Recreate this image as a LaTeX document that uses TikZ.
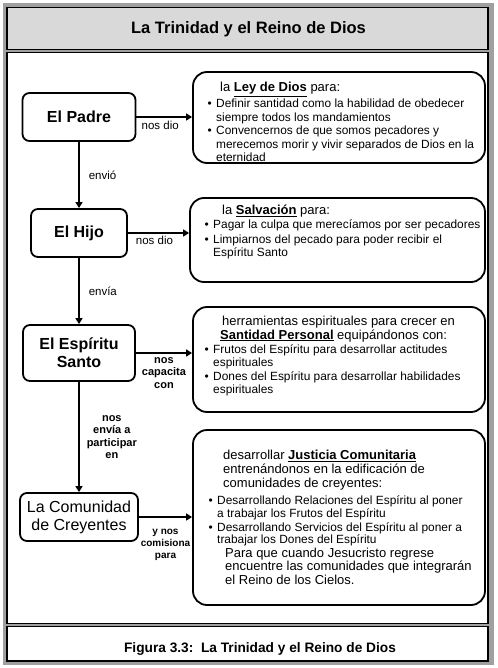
\documentclass[tikz,border=0pt]{standalone}
\usepackage{fontspec}
\setmainfont{Liberation Sans}
\usepackage{tikz}
\usetikzlibrary{arrows.meta}
\definecolor{framegray}{HTML}{A0A0A0}
\definecolor{titlegray}{HTML}{D9D9D9}
\newcommand{\bul}{\llap{\textbullet\hspace{4.5pt}}}
\newcommand{\encab}{\fontsize{13}{13.5}\selectfont}

\begin{document}
\begin{tikzpicture}[x=1pt,y=-1pt,
  persona/.style={draw,line width=1.8pt,rounded corners=7pt,align=center,inner sep=0pt,font=\fontsize{16}{18}\selectfont\bfseries},
  caja/.style={draw,line width=1.8pt,rounded corners=14pt,inner sep=0pt},
  texto/.style={anchor=north west,inner sep=0pt,align=left,font=\fontsize{11.9}{13.5}\selectfont},
  flecha/.style={line width=1.5pt,-{Triangle[length=6pt,width=7pt]}},
  rotulo/.style={font=\fontsize{11.5}{12.5}\selectfont,inner sep=1pt,align=center},
  rotulob/.style={rotulo,font=\fontsize{11}{12.3}\selectfont\bfseries}]
\useasboundingbox (0,0) rectangle (497,668);
% marco
\fill[framegray] (3,3) rectangle (494,665);
\draw[fill=titlegray,line width=1.2pt] (7,7.5) rectangle (488,49.5);
\draw[fill=white,line width=1.2pt] (7,52.5) rectangle (488,623.5);
\draw[fill=white,line width=1.2pt] (7,626.5) rectangle (488,661);
\node[font=\fontsize{16.5}{20}\selectfont\bfseries] (titulo) at (248.5,29) {La Trinidad y el Reino de Dios};
\node[font=\fontsize{13.7}{16}\selectfont\bfseries] (pie) at (260,649) {Figura 3.3:\ \ La Trinidad y el Reino de Dios};

% personas
\node[persona,minimum width=113pt,minimum height=48pt] (padre) at (79,117) {El Padre};
\node[persona,minimum width=96pt,minimum height=48pt] (hijo) at (79,233) {El Hijo};
\node[persona,minimum width=112pt,minimum height=56pt] (espiritu) at (79,353) {El Espíritu\\Santo};
\node[persona,minimum width=118pt,minimum height=48pt,font=\fontsize{16}{18}\selectfont] (comunidad) at (79,517) {La Comunidad\\de Creyentes};

% cajas
\node[caja,minimum width=292pt,minimum height=91pt] (ley) at (339,117.5) {};
\node[caja,minimum width=295pt,minimum height=84pt] (salv) at (337.5,240) {};
\node[caja,minimum width=292pt,minimum height=105pt] (sant) at (339,359.5) {};
\node[caja,minimum width=292pt,minimum height=175pt] (just) at (339,517.5) {};

\node[texto] (tley) at (216,82) {{\encab\hspace*{4pt}la \underline{\textbf{Ley de Dios}} para:}\\[2.5pt]
\bul Definir santidad como la habilidad de obedecer\\
siempre todos los mandamientos\\
\bul Convencernos de que somos pecadores y\\
merecemos morir y vivir separados de Dios en la\\
eternidad};
\node[texto] (tsalv) at (213,205) {{\encab\hspace*{9pt}la \underline{\textbf{Salvación}} para:}\\[0.5pt]
\bul Pagar la culpa que merecíamos por ser pecadores\\[1pt]
\bul Limpiarnos del pecado para poder recibir el\\
Espíritu Santo};
\node[texto] (tsant) at (213,316) {{\encab\hspace*{9pt}herramientas espirituales para crecer en}\\
{\encab\hspace*{7pt}\underline{\textbf{Santidad Personal}} equipándonos con:}\\[0.5pt]
\bul Frutos del Espíritu para desarrollar actitudes\\
espirituales\\
\bul Dones del Espíritu para desarrollar habilidades\\
espirituales};
\node[texto] (tjust) at (217,450) {{\encab\hspace*{6pt}desarrollar \underline{\textbf{Justicia Comunitaria}}}\\
{\encab\hspace*{6pt}entrenándonos en la edificación de}\\[1pt]
{\encab\hspace*{6pt}comunidades de creyentes:}\\[3pt]
\bul Desarrollando Relaciones del Espíritu al poner\\
a trabajar los Frutos del Espíritu\\
\bul Desarrollando Servicios del Espíritu al poner a\\[-1.5pt]
trabajar los Dones del Espíritu\\[0.5pt]
{\encab\hspace*{8pt}Para que cuando Jesucristo regrese}\\
{\encab\hspace*{8pt}encuentre las comunidades que integrarán}\\
{\encab\hspace*{8pt}el Reino de los Cielos.}};

% conectores
\draw[flecha] (padre.east) -- (padre.east -| ley.west) node[rotulo,midway,below=2pt,xshift=-4pt] {nos dio};
\draw[flecha] (padre) -- (hijo) node[rotulo,midway,right=8pt] {envió};
\draw[flecha] (hijo.east) -- (hijo.east -| salv.west) node[rotulo,midway,below=1pt,xshift=-4pt] {nos dio};
\draw[flecha] (hijo) -- (espiritu) node[rotulo,midway,right=8pt] {envía};
\draw[flecha] (espiritu.east) -- (espiritu.east -| sant.west) node[rotulob,midway,below=3pt] {nos\\capacita\\con};
\draw[flecha] (espiritu) -- (comunidad) node[rotulob,midway,right=6pt] {nos\\envía a\\participar\\en};
\draw[flecha] (comunidad.east) -- (comunidad.east -| just.west) node[rotulob,midway,below=10pt,font=\fontsize{10}{12.3}\selectfont\bfseries] {y nos\\comisiona\\para};
\end{tikzpicture}
\end{document}
